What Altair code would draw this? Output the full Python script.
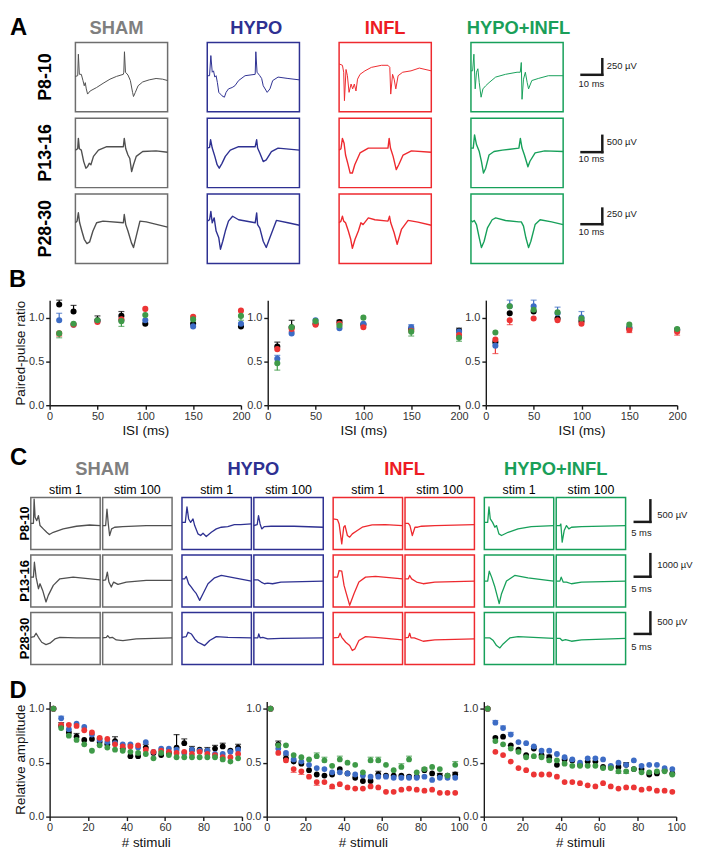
import altair as alt
import pandas as pd

FONT = "Liberation Sans"

GROUPS = ["SHAM", "HYPO", "INFL", "HYPO+INFL"]
AGES = ["P8-10", "P13-16", "P28-30"]
TITLE_COLORS = ["#7f7f7f", "#2e3192", "#ed1c24", "#1a9f59"]
FRAME_COLORS = ["#6e6e6e", "#2e3192", "#ee2a2f", "#17a05a"]
TRACE_COLORS = ["#505050", "#2e3192", "#ee2a2f", "#17a05a"]
DOT_COLORS = ["#000000", "#3d6cc5", "#ec3535", "#3f9a48"]

# ---------------- Panel A traces (time % of frame, voltage % of frame height) ----------------
A_SHAM_P8 = [(0,51),(2.5,52),(3.2,83),(4.3,54),(6.4,54),(8.2,45),(9.6,37.5),(10.7,42),(11.8,33),(13.2,25.5),(16,30),(23,35),(30,41),(37.5,47),(44.6,51),(52,54),(52.5,57),(53.2,86.5),(54.3,57),(57,53),(59.6,45),(62,28),(63,22),(65,28),(68,37.5),(73,43),(80,46),(87.5,48),(94.6,47),(100,45)]
A_HYPO_P8 = [(0,52),(2.5,52),(3.9,81),(5.4,57),(6.8,59),(8.2,50),(9.6,52),(11,42),(12.5,28),(14.3,25.5),(16,23),(18.6,21),(20.4,28),(23,33),(27,35),(30,37.5),(34,45),(41,52),(52,54),(52.7,86.5),(54,57),(57,52),(59,48),(60.7,37.5),(65,28),(68,33),(71,45),(76.8,50),(87.5,48),(100,46)]
A_INFL_P8 = [(0,69),(3.6,67),(5,57),(5.8,16),(7.5,61),(9,52),(10.8,28),(13,40),(14.7,33),(16.5,40),(18.3,30),(20,47),(22.7,54),(28,59),(35,64),(46,67),(53,67),(55,64),(56,25.5),(58,54),(59.7,47),(61.5,33),(64,52),(69,57),(78,59),(87,63),(100,59)]
A_GREEN_P8 = [(0,59),(1.8,59),(3.2,83),(4.6,33),(6,57),(7.5,62),(9,42),(11,21),(13,33),(16,37.5),(19.6,42),(26.8,50),(37.5,54),(50,57),(53.5,57),(54.6,71),(55.4,18),(57,47),(59,57),(61,42),(62.5,33),(66,45),(73,48),(84,52),(100,52)]
A_SHAM_P13 = [(0,54),(2.5,56),(3.2,71),(4.3,56),(6.4,54),(9,37.5),(11.4,28),(13,30),(15,35),(16.8,33),(19.6,45),(25,54),(34,59),(52,59),(53,71),(54.6,56),(57,47),(59,42),(61,23),(63,33),(66,45),(73,52),(87.5,53),(100,51)]
A_HYPO_P13 = [(0,57),(2.5,58),(3.6,69),(5.4,57),(8.2,45),(10.7,33),(13,28),(16,35),(19.6,45),(25,54),(34,59),(52,59),(53.6,69),(54.6,57),(57,50),(60.7,37.5),(64,40),(69.6,52),(76.8,57),(100,54)]
A_INFL_P13 = [(0,54),(2,56),(3.6,71),(5.4,64),(7,47),(9.4,35),(12,21),(14.4,21),(17,33),(22.7,50),(31.7,57),(53,57),(54.3,71),(55.7,57),(58.6,45),(62,26),(64.7,33),(69.4,47),(78.4,53),(100,51)]
A_GREEN_P13 = [(0,57),(2.5,57),(3.9,76),(6,62),(9,52),(11.4,37.5),(13.6,21),(16,28),(19.6,47),(25,52),(34,54),(52,57),(53.6,71),(55.4,57),(58,47),(61.8,30),(64,38),(69.6,50),(80,53),(100,52)]
A_SHAM_P28 = [(0,58.6),(1.8,61),(3.2,73),(4.6,58.6),(7,46.7),(9.6,34.8),(12.5,28.6),(15.4,31),(19,46.7),(23,58.6),(30,61),(52,58.6),(53,70.5),(54.6,56),(57,46.7),(60.7,30),(63,23),(66,39.5),(70,61),(76.8,60),(100,52.4)]
A_HYPO_P28 = [(0,61),(2.5,63),(3.9,75),(5.4,58.6),(7.5,65.7),(9.6,46.7),(12.5,37),(14.3,20.5),(16.8,32),(19.6,46.7),(23,61),(27.5,68),(34,63),(52,58.6),(53.6,72.9),(54.6,56),(57,51),(60.7,32),(64,23),(67.9,37),(75,62),(87.5,58.6),(100,55)]
A_INFL_P28 = [(0,58.6),(2,61),(3.6,68),(5,61),(7,58.6),(10,46.7),(12.6,34.8),(14.4,21.9),(17.3,34.8),(20.9,46.7),(23.7,58.6),(26,56),(31.7,65.7),(38.8,63),(53,61),(54.7,68),(56,58.6),(59.7,44.3),(63,27.6),(67.6,49),(74.8,62),(85.6,59.5),(100,55)]
A_GREEN_P28 = [(0,61.9),(1.8,60),(3.6,61.9),(6,56),(9,37),(11.4,22.9),(14.3,32),(17.9,51.4),(23,63),(26.8,65.7),(37.5,61.9),(52,60),(54.6,60),(57,53.8),(59.6,37),(62.5,22.9),(65,32),(69.6,56),(75,63),(87.5,60),(100,56)]

A_SCALE_UV = ["250 µV", "500 µV", "250 µV"]
A_SCALE_MS = "10 ms"

# ---------------- Panel B: paired-pulse ratio ----------------
ISI = [10, 25, 50, 75, 100, 150, 200]
B1_SHAM = [1.15, 1.07, 0.97, 1.02, 0.93, 0.93, 0.90]
B1_HYPO = [0.97, 0.92, 0.96, 0.97, 0.97, 0.90, 0.93]
B1_INFL = [0.82, 0.92, 0.95, 0.98, 1.10, 1.01, 1.08]
B1_HI = [0.82, 0.93, 0.97, 0.96, 1.03, 0.98, 1.02]
B2_SHAM = [0.67, 0.89, 0.93, 0.95, 0.92, 0.87, 0.85]
B2_HYPO = [0.53, 0.82, 0.97, 0.88, 0.93, 0.89, 0.84]
B2_INFL = [0.64, 0.87, 0.92, 0.93, 0.89, 0.85, 0.80]
B2_HI = [0.48, 0.89, 0.96, 0.91, 1.00, 0.84, 0.77]
B3_SHAM = [0.72, 1.05, 1.07, 0.99, 0.96, 0.88, 0.86]
B3_HYPO = [0.68, 1.13, 1.13, 1.05, 1.00, 0.89, 0.86]
B3_INFL = [0.75, 0.97, 0.99, 0.97, 0.93, 0.86, 0.84]
B3_HI = [0.83, 1.13, 1.09, 1.06, 0.99, 0.92, 0.87]
# visible error-bar ends: (group, ISI, end value)
B1_ERR = [("SHAM",10,1.20),("HYPO",10,1.05),("HYPO+INFL",10,0.77),("INFL",10,0.79),("SHAM",25,1.14),("SHAM",50,1.02),("SHAM",75,1.07),("HYPO+INFL",75,0.90),("HYPO+INFL",200,0.97)]
B2_ERR = [("SHAM",10,0.72),("HYPO",10,0.57),("HYPO+INFL",10,0.40),("SHAM",25,0.97),("INFL",25,0.84),("SHAM",75,0.97),("HYPO",150,0.92),("HYPO+INFL",150,0.79),("SHAM",200,0.88),("HYPO+INFL",200,0.73)]
B3_ERR = [("INFL",10,0.59),("HYPO",25,1.20),("INFL",25,0.92),("HYPO",50,1.20),("HYPO",75,1.12),("HYPO",100,1.07),("INFL",150,0.83),("INFL",200,0.80)]

# ---------------- Panel C traces ----------------
C_SHAM_S1_P8 = [(0,50.3),(3.8,50.3),(4.8,96.8),(6.2,61.8),(8.6,55.4),(11,65),(13.3,45.9),(18,39.5),(22.9,33),(26.7,28.7),(32.4,33),(46.7,39.5),(65.7,44.6),(84.8,47),(100,45.9)]
C_SHAM_S100_P8 = [(0,45.9),(4.3,45.9),(6.2,77.7),(8.1,49),(10,26.8),(12.9,39.5),(17.2,42.7),(29,44),(62.7,45.9),(100,45.9)]
C_HYPO_S1_P8 = [(0,52),(4.8,52),(7.2,82),(9.6,58.6),(12.5,52),(15.9,58.6),(18.3,45.9),(23,30),(26.9,26.8),(30.3,31.2),(35,24.8),(42.3,33),(49.5,39.5),(56.7,42.7),(66,44),(75.5,47.8),(84.6,47.8),(100,49)]
C_HYPO_S100_P8 = [(0,45.9),(4.8,47.8),(6.7,65),(9,49),(11.4,39.5),(15.2,44),(24.8,44.6),(58,44.6),(100,42.7)]
C_INFL_S1_P8 = [(0,58.6),(6.2,57.3),(8.6,49),(12.4,10.8),(15.2,42.7),(17.1,45.9),(20.5,26.8),(23.8,23.6),(27.6,30),(34.8,36.3),(41.9,42.7),(56.2,47.1),(75.2,47.8),(100,45.9)]
C_INFL_S100_P8 = [(0,50.3),(4.8,50.3),(7.1,45.9),(10.5,26.8),(14.3,42.7),(18.1,42.7),(23.8,44.6),(42.9,45.9),(100,47.8)]
C_HI_S1_P8 = [(0,52),(4.8,52),(6.7,82),(8.6,58.6),(11.9,52),(15.2,42.7),(17.6,45.9),(21,30),(24.8,26.8),(34.3,33),(48.6,39.5),(67.6,44),(100,45.9)]
C_HI_S100_P8 = [(0,45.9),(5.3,45.9),(6.7,49),(8.6,14),(11.5,36.3),(14.8,45.9),(18.2,39.5),(22,42.7),(36.4,44),(100,45.9)]
C_SHAM_S1_P13 = [(0,57.3),(3.8,57.3),(5.2,86),(7.6,57.3),(11,35),(13.3,44.6),(17.1,31.8),(21.9,9.6),(25.2,22.3),(32.4,41.4),(41.9,54.1),(61,57.3),(100,52.2)]
C_SHAM_S100_P13 = [(0,51),(4.3,52.2),(6.7,66.9),(9,47.8),(12.4,38.2),(15.8,47.8),(22,43.3),(34,47.8),(62.7,51),(100,51)]
C_HYPO_S1_P13 = [(0,54),(3.8,54),(6.2,58.6),(9.6,44.6),(13.5,38.2),(16.8,31.8),(20.7,25.5),(25.5,12.7),(30.3,25.5),(37.5,44.6),(47,56),(56.7,60.5),(75.5,56),(100,49.7)]
C_HYPO_S100_P13 = [(0,52.2),(5.7,52.2),(10.5,47.8),(15.2,44.6),(20,45.9),(27,44.6),(39,47.8),(100,49.7)]
C_INFL_S1_P13 = [(0,57.3),(6.2,57.3),(8.6,70),(12.4,68.8),(15.7,41.4),(19,25.5),(23.8,3.2),(30,25.5),(37.1,47.8),(46.7,57.3),(61,58.6),(100,54)]
C_INFL_S100_P13 = [(0,54),(4.8,54),(6.7,60.5),(9.5,54),(16.7,47.8),(26.2,44.6),(42.9,47.8),(100,49.7)]
C_HI_S1_P13 = [(0,49.7),(4.8,49.7),(7.1,68.8),(10.5,57.3),(15.2,38.2),(19,19),(21.4,6.4),(24.8,25.5),(31.9,49.7),(43.8,60.5),(62.9,56),(100,49.7)]
C_HI_S100_P13 = [(0,49.7),(5.3,49.7),(7.2,57.3),(10,47.8),(14.8,47.8),(22,44.6),(36.4,47.8),(100,49.7)]
C_SHAM_S1_P28 = [(0,52.2),(4.8,53.5),(7.6,59.9),(11,52.2),(15.7,42.7),(21.9,38.2),(27.6,40.8),(34.8,49),(41.9,52.2),(65.7,51),(100,51)]
C_SHAM_S100_P28 = [(0,51),(5.3,52.2),(7.2,55.4),(10,51),(13.9,52.2),(19.6,47.1),(29.2,45.9),(48.3,49),(100,51)]
C_HYPO_S1_P28 = [(0,52.2),(6.2,53.5),(8.7,61.8),(13.5,58.6),(18.3,49),(23,42.7),(27.9,39.5),(32.7,36.3),(39.9,45.9),(49.5,53.5),(66.3,52.2),(100,51)]
C_HYPO_S100_P28 = [(0,51),(5.7,51),(7.1,58.6),(9,51),(12.9,52.2),(20,49),(39,50.3),(100,51)]
C_INFL_S1_P28 = [(0,51),(7.6,52.2),(10,59.9),(12.4,52.2),(18.1,42.7),(23.8,36.3),(27.6,26.8),(31.4,30),(37.1,45.9),(46.7,53.5),(61,52.2),(100,47.1)]
C_INFL_S100_P28 = [(0,51),(4.8,52.2),(6.7,59.9),(8.6,51),(13.3,51),(26.2,44.6),(42.9,47.1),(100,49)]
C_HI_S1_P28 = [(0,51),(8.1,51),(12.9,45.9),(17.6,36.3),(22.4,31.8),(27.1,39.5),(36.7,51),(48.6,53.5),(100,50.3)]
C_HI_S100_P28 = [(0,50.3),(5.3,50.3),(8.6,45.9),(13.4,47.8),(22,44.6),(36.4,47.1),(100,50.3)]

C_SCALE_UV = ["500 µV", "1000 µV", "500 µV"]
C_SCALE_MS = "5 ms"
C_STIM = ["stim 1", "stim 100"]

# ---------------- Panel D: relative amplitude ----------------
STIM = [2, 6, 10, 14, 18, 22, 26, 30, 34, 38, 42, 46, 50, 54, 58, 62, 66, 70, 74, 78, 82, 86, 90, 94, 98]
D1_SHAM = [1.0,0.84,0.78,0.74,0.71,0.72,0.69,0.67,0.70,0.63,0.56,0.56,0.64,0.59,0.57,0.59,0.64,0.68,0.62,0.62,0.61,0.63,0.65,0.61,0.64]
D1_HYPO = [1.0,0.91,0.81,0.86,0.83,0.76,0.71,0.69,0.68,0.67,0.67,0.64,0.69,0.60,0.63,0.63,0.62,0.59,0.62,0.61,0.61,0.58,0.58,0.60,0.62]
D1_INFL = [1.0,0.85,0.85,0.84,0.80,0.78,0.73,0.72,0.67,0.65,0.65,0.66,0.62,0.60,0.61,0.60,0.59,0.60,0.58,0.60,0.58,0.57,0.55,0.55,0.58]
D1_HI = [1.0,0.82,0.75,0.71,0.67,0.61,0.66,0.64,0.62,0.61,0.60,0.59,0.58,0.54,0.59,0.57,0.55,0.55,0.55,0.55,0.55,0.55,0.53,0.51,0.54]
D2_SHAM = [1.0,0.67,0.54,0.51,0.49,0.43,0.39,0.38,0.39,0.44,0.40,0.36,0.33,0.33,0.39,0.38,0.38,0.38,0.37,0.37,0.43,0.40,0.38,0.38,0.39]
D2_HYPO = [1.0,0.63,0.59,0.53,0.51,0.48,0.45,0.44,0.41,0.41,0.40,0.39,0.38,0.37,0.37,0.37,0.36,0.36,0.36,0.36,0.37,0.34,0.36,0.36,0.36]
D2_INFL = [1.0,0.59,0.52,0.44,0.42,0.37,0.32,0.32,0.28,0.30,0.27,0.26,0.26,0.28,0.27,0.23,0.23,0.25,0.26,0.25,0.24,0.25,0.22,0.22,0.22]
D2_HI = [1.0,0.66,0.66,0.57,0.55,0.53,0.56,0.52,0.47,0.53,0.50,0.48,0.41,0.52,0.52,0.48,0.43,0.46,0.53,0.41,0.44,0.46,0.44,0.38,0.48]
D3_SHAM = [1.0,0.73,0.74,0.66,0.62,0.57,0.63,0.57,0.55,0.48,0.53,0.52,0.48,0.51,0.51,0.46,0.46,0.46,0.48,0.44,0.44,0.39,0.40,0.43,0.40]
D3_HYPO = [1.0,0.87,0.82,0.76,0.69,0.68,0.65,0.61,0.61,0.58,0.55,0.53,0.50,0.54,0.54,0.53,0.47,0.50,0.48,0.52,0.47,0.48,0.48,0.45,0.44]
D3_INFL = [1.0,0.60,0.57,0.51,0.45,0.43,0.39,0.39,0.39,0.37,0.32,0.32,0.31,0.29,0.28,0.31,0.28,0.26,0.27,0.27,0.25,0.26,0.24,0.24,0.23]
D3_HI = [1.0,0.70,0.67,0.63,0.60,0.55,0.56,0.55,0.52,0.52,0.49,0.47,0.47,0.47,0.47,0.45,0.45,0.42,0.42,0.44,0.41,0.41,0.42,0.42,0.39]
D1_ERR = [("SHAM",6,0.87),("SHAM",14,0.77),("SHAM",26,0.72),("SHAM",34,0.74),("SHAM",50,0.67),("SHAM",66,0.76),("SHAM",70,0.72),("SHAM",74,0.65),("SHAM",82,0.64),("SHAM",86,0.66),("SHAM",90,0.68),("SHAM",98,0.67),("HYPO",6,0.93)]
D2_ERR = [("SHAM",6,0.70),("SHAM",10,0.57),("SHAM",58,0.42),("SHAM",82,0.45),("SHAM",90,0.40),("SHAM",98,0.41),("HYPO+INFL",26,0.59),("HYPO+INFL",30,0.55),("HYPO+INFL",38,0.56),("HYPO+INFL",54,0.55),("HYPO+INFL",58,0.55),("HYPO+INFL",70,0.49),("HYPO+INFL",74,0.56),("HYPO+INFL",98,0.51),("INFL",14,0.41),("INFL",18,0.39),("INFL",26,0.29),("INFL",34,0.26)]
D3_ERR = [("HYPO",6,0.89),("HYPO",10,0.84),("HYPO",14,0.78),("SHAM",26,0.65),("SHAM",34,0.57),("SHAM",74,0.50),("HYPO+INFL",70,0.40),("HYPO+INFL",74,0.40)]


# ================= helpers =================
def one():
    return pd.DataFrame({"k": [0]})


def txt(s, x, y, size, color="#000000", weight="normal", align="left", baseline="alphabetic", angle=0):
    return alt.Chart(pd.DataFrame({"s": [s]})).mark_text(
        fontSize=size, fontWeight=weight, color=color, align=align,
        baseline=baseline, angle=angle, font=FONT
    ).encode(x=alt.value(x), y=alt.value(y), text="s:N")


def hbar(x1, x2, y, w=2.5):
    return alt.Chart(one()).mark_rule(color="#1a1a1a", strokeWidth=w, strokeCap="butt").encode(
        x=alt.value(x1), x2=alt.value(x2), y=alt.value(y))


def vbar(x, y1, y2, w=2.5):
    return alt.Chart(one()).mark_rule(color="#1a1a1a", strokeWidth=w, strokeCap="butt").encode(
        x=alt.value(x), y=alt.value(y1), y2=alt.value(y2))


def trace_box(pts, gi, w, h, lw, extras):
    line = alt.Chart(pd.DataFrame(pts, columns=["t", "v"])).mark_line(
        color=TRACE_COLORS[gi], strokeWidth=lw, strokeJoin="round"
    ).encode(
        x=alt.X("t:Q", scale=alt.Scale(domain=[0, 100], nice=False, zero=False), axis=None),
        y=alt.Y("v:Q", scale=alt.Scale(domain=[0, 100], nice=False, zero=False), axis=None),
    )
    return alt.layer(line, *extras).properties(
        width=w, height=h,
        view=alt.ViewBackground(stroke=FRAME_COLORS[gi], strokeWidth=1.5),
    )


def spacer(h):
    return alt.Chart(one()).mark_text(text="", fontSize=1).encode(
        x=alt.value(0), y=alt.value(h / 2)).properties(width=1, height=h)


def anchor_wrap(section):
    # a 1px anchor first, so every section is laid out from its own left edge
    dummy = alt.Chart(one()).mark_text(text="", fontSize=1).encode(
        x=alt.value(0), y=alt.value(0.5)).properties(width=1, height=1)
    return alt.hconcat(dummy, section, spacing=0)


AXIS_COMMON = dict(grid=False, domainColor="#1a1a1a", domainWidth=1.4, tickColor="#1a1a1a",
                   tickWidth=1.4, tickSize=4, labelFontSize=11, labelColor="#333333",
                   labelFont=FONT, titleFont=FONT, titleFontSize=13.5, titleFontWeight="normal",
                   titleColor="#111111", labelFlush=False, labelOverlap=False)


def scatter(xs, series, errs, xdom, ydom, w, h, xvals, xtitle, ytitle, letter=None, dot=34):
    rows = []
    for g, vals in zip(GROUPS, series):
        for x, v in zip(xs, vals):
            rows.append({"x": x, "v": v, "g": g})
    df = pd.DataFrame(rows)
    lookup = {(r["g"], r["x"]): r["v"] for r in rows}
    erows = [{"g": g, "x": x, "v": lookup[(g, x)], "e": e} for g, x, e in errs]
    edf = pd.DataFrame(erows)

    xax = alt.Axis(values=xvals, title=xtitle, labelPadding=1, titlePadding=3, **AXIS_COMMON)
    yargs = dict(values=[0, 0.5, 1.0], format=".1f", labelPadding=2, titlePadding=1, **AXIS_COMMON)
    yax = alt.Axis(title=ytitle, **yargs) if ytitle else alt.Axis(title=None, **yargs)
    xs_ = alt.Scale(domain=xdom, nice=False)
    ys_ = alt.Scale(domain=ydom, nice=False)
    color = alt.Color("g:N", scale=alt.Scale(domain=GROUPS, range=DOT_COLORS), legend=None)

    rule = alt.Chart(edf).mark_rule(strokeWidth=1.2).encode(
        x=alt.X("x:Q", scale=xs_, axis=xax), y=alt.Y("v:Q", scale=ys_, axis=yax), y2="e:Q", color=color)
    cap = alt.Chart(edf).mark_tick(orient="horizontal", size=6, thickness=1.2).encode(
        x=alt.X("x:Q", scale=xs_, axis=xax), y=alt.Y("e:Q", scale=ys_, axis=yax), color=color)
    pts = alt.Chart(df).mark_circle(size=dot, opacity=1).encode(
        x=alt.X("x:Q", scale=xs_, axis=xax), y=alt.Y("v:Q", scale=ys_, axis=yax), color=color)
    layers = [rule, cap, pts]
    if letter:
        layers.append(txt(letter[0], letter[1], letter[2], 24, weight="bold"))
    return alt.layer(*layers).properties(width=w, height=h)


# ================= Panel A =================
A_TRACES = [
    [A_SHAM_P8, A_HYPO_P8, A_INFL_P8, A_GREEN_P8],
    [A_SHAM_P13, A_HYPO_P13, A_INFL_P13, A_GREEN_P13],
    [A_SHAM_P28, A_HYPO_P28, A_INFL_P28, A_GREEN_P28],
]
AW, AH = 93, 70
A_TITLE_DX = [-5, 3, 0, 1.5]
A_BAR = [(32.7, 15.7, 23.7, 41.7), (34.2, 16.5, 24.2, 41.5), (30.4, 13.4, 20.4, 38.4)]
a_charts = []
for r in range(3):
    for gi in range(4):
        ex = []
        if r == 0:
            ex.append(txt(GROUPS[gi], AW / 2 + A_TITLE_DX[gi], -8.6, 18.5, TITLE_COLORS[gi], "bold", "center"))
        if gi == 0:
            ex.append(txt(AGES[r], -25, AH / 2, 18, "#000000", "bold", "center", angle=270))
            if r == 0:
                ex.append(txt("A", -66, -7.5, 24, weight="bold"))
        if gi == 3:
            hy, v1, ty, my = A_BAR[r]
            ex.append(hbar(110.3, 133.7, hy))
            ex.append(vbar(132.5, v1, hy + 1.2))
            ex.append(txt(A_SCALE_UV[r], 137, ty, 9.5, "#222222", baseline="middle"))
            ex.append(txt(A_SCALE_MS, 121.5, my, 9.5, "#222222", align="center", baseline="middle"))
        lw = 1.0 if r == 0 else 1.4
        a_charts.append(trace_box(A_TRACES[r][gi], gi, AW, AH, lw, ex))
panelA = alt.concat(*a_charts, columns=4, spacing={"row": 6.5, "column": 40}, bounds="flush")

# ================= Panel B =================
BW = 193
b1 = scatter(ISI, [B1_SHAM, B1_HYPO, B1_INFL, B1_HI], B1_ERR, [0, 200], [0, 1.2], BW, 106,
             [0, 50, 100, 150, 200], "ISI (ms)", "Paired-pulse ratio", letter=("B", -41, -13), dot=38)
b2 = scatter(ISI, [B2_SHAM, B2_HYPO, B2_INFL, B2_HI], B2_ERR, [0, 200], [0, 1.2], BW, 106,
             [0, 50, 100, 150, 200], "ISI (ms)", None, dot=38)
b3 = scatter(ISI, [B3_SHAM, B3_HYPO, B3_INFL, B3_HI], B3_ERR, [0, 200], [0, 1.2], BW, 106,
             [0, 50, 100, 150, 200], "ISI (ms)", None, dot=38)
panelB = alt.hconcat(b1, b2, b3, spacing=27, bounds="flush")

# ================= Panel C =================
C_TRACES = [
    [[C_SHAM_S1_P8, C_SHAM_S100_P8], [C_SHAM_S1_P13, C_SHAM_S100_P13], [C_SHAM_S1_P28, C_SHAM_S100_P28]],
    [[C_HYPO_S1_P8, C_HYPO_S100_P8], [C_HYPO_S1_P13, C_HYPO_S100_P13], [C_HYPO_S1_P28, C_HYPO_S100_P28]],
    [[C_INFL_S1_P8, C_INFL_S100_P8], [C_INFL_S1_P13, C_INFL_S100_P13], [C_INFL_S1_P28, C_INFL_S100_P28]],
    [[C_HI_S1_P8, C_HI_S100_P8], [C_HI_S1_P13, C_HI_S100_P13], [C_HI_S1_P28, C_HI_S100_P28]],
]
CW, CH = 70, 52.5
C_BAR = [(1.7, 24.7, 17.7, 35.7), (-2, 22, 10, 34), (-1.3, 21.7, 9.7, 34.7)]
c_groups = []
for gi in range(4):
    cells = []
    for r in range(3):
        for s in range(2):
            ex = []
            if r == 0:
                ex.append(txt(C_STIM[s], CW / 2, -3.3, 12.5, "#000000", align="center"))
                if s == 0:
                    ex.append(txt(GROUPS[gi], 72, -22.3, 18.5, TITLE_COLORS[gi], "bold", "center"))
            if gi == 0 and s == 0:
                ex.append(txt(AGES[r], -1.5, CH / 2, 13, "#000000", "bold", "center", angle=270))
                if r == 0:
                    ex.append(txt("C", -21, -32.3, 24, weight="bold"))
            if gi == 3 and s == 1:
                v1, hy, ty, my = C_BAR[r]
                ex.append(hbar(78, 96.2, hy))
                ex.append(vbar(95, v1, hy + 1.2))
                ex.append(txt(C_SCALE_UV[r], 102, ty, 9.5, "#222222", baseline="middle"))
                ex.append(txt(C_SCALE_MS, 86, my, 9.5, "#222222", align="center", baseline="middle"))
            cells.append(trace_box(C_TRACES[gi][r][s], gi, CW, CH, 1.3, ex))
    c_groups.append(alt.concat(*cells, columns=2, spacing={"row": 5, "column": 2.5}, bounds="flush"))
panelC = alt.hconcat(*c_groups, spacing=6.5)

# ================= Panel D =================
DW = 194
d1 = scatter(STIM, [D1_SHAM, D1_HYPO, D1_INFL, D1_HI], D1_ERR, [0, 100], [0, 1.065], DW, 116,
             [0, 20, 40, 60, 80, 100], "# stimuli", "Relative amplitude", letter=("D", -40.5, -3.3))
d2 = scatter(STIM, [D2_SHAM, D2_HYPO, D2_INFL, D2_HI], D2_ERR, [0, 100], [0, 1.065], DW, 116,
             [0, 20, 40, 60, 80, 100], "# stimuli", None)
d3 = scatter(STIM, [D3_SHAM, D3_HYPO, D3_INFL, D3_HI], D3_ERR, [0, 100], [0, 1.065], DW, 116,
             [0, 20, 40, 60, 80, 100], "# stimuli", None)
panelD = alt.hconcat(d1, d2, d3, spacing=25, bounds="flush")

chart = alt.vconcat(
    anchor_wrap(panelA), spacer(4), anchor_wrap(panelB), spacer(7),
    anchor_wrap(panelC), spacer(13), anchor_wrap(panelD), spacing=0
).properties(
    padding={"left": 0, "top": 3, "right": 0, "bottom": 0}
).configure(font=FONT).configure_view(stroke="transparent", strokeWidth=0)

chart.save("out.html", embed_options={"renderer": "svg", "actions": False})
